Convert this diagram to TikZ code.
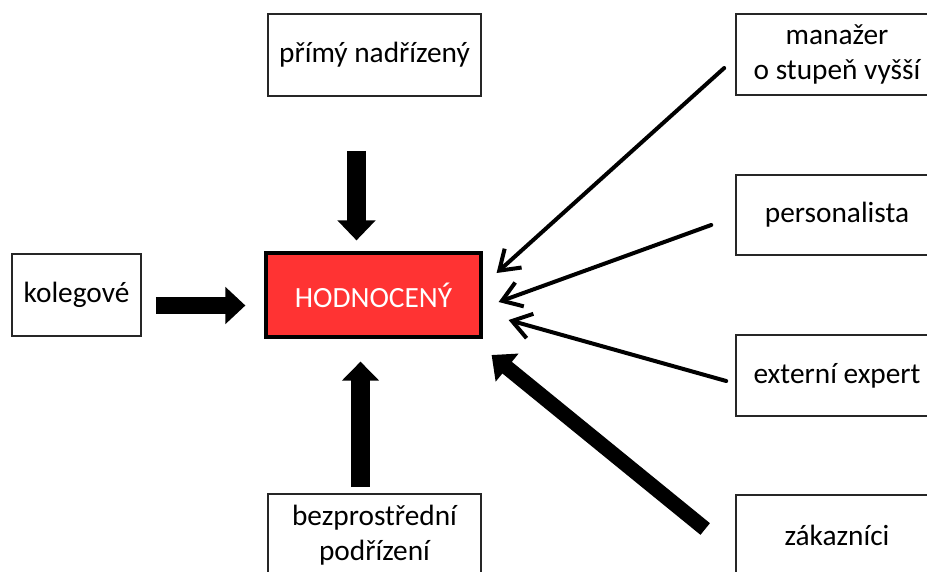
\documentclass[tikz,border=0pt]{standalone}
\usepackage{fontspec}
\setmainfont{Carlito}
\usetikzlibrary{arrows.meta,calc}
\definecolor{hodred}{RGB}{255,51,51}
\begin{document}
\begin{tikzpicture}[x=0.75pt,y=-0.75pt,
  box/.style={draw=black!85,line width=1.2pt,fill=white,inner sep=0pt,align=center,
    font=\fontsize{22}{26.5}\selectfont},
  sz/.style 2 args={minimum width=#1*0.75pt,minimum height=#2*0.75pt},
  blockarrow/.style n args={3}{line width=#1*0.75pt,
    -{Triangle[length=#3*0.75pt,width=#2*0.75pt]}},
  thinarrow/.style={line width=3pt,line cap=round,
    -{Straight Barb[length=14pt,width=19pt]}}
]
\useasboundingbox (0,0) rectangle (927,571);
\fill[white] (0,0) rectangle (927,571);
\clip (0,0) rectangle (927,571);

% nodes
\node[box,sz={213}{82}] (top) at (374.5,55) {přímý nadřízený};
\node[box,sz={129}{82}] (kol) at (76.5,295) {kolegové};
\node[box,sz={215}{84},fill=hodred,draw=black,line width=2.4pt,text=white] (hod) at (373.5,295) {HODNOCENÝ};
\node[box,sz={213}{82}] (bot) at (374.5,535) {bezprostřední\\podřízení};
\node[box,sz={202}{81}] (mgr) at (837,54.5) {manažer\\o stupeň vyšší};
\node[box,sz={202}{80}] (pers) at (837,215) {personalista};
\node[box,sz={202}{81}] (ext) at (837,375.5) {externí expert};
\node[box,sz={202}{81}] (zak) at (837,535.5) {zákazníci};

% block arrows
\draw[blockarrow={19}{37}{20}] ($(top.south)+(-18,54)$) -- ($(hod.north)+(-17,-11)$);
\draw[blockarrow={19}{36}{19}] ($(bot.north)+(-14,-6)$) -- ($(hod.south)+(-13,23)$);
\draw[blockarrow={17}{36}{20}] ($(kol.east)+(14,10.5)$) -- ($(hod.west)+(-19,10.5)$);
\draw[blockarrow={15}{35}{20}] ($(zak.west)+(-30,-6.5)$) -- ($(hod.east)+(9,60)$);

% thin arrows
\draw[thinarrow] ($(mgr.west)+(-11,13.5)$) -- ($(hod.east)+(14,-22)$);
\draw[thinarrow] ($(pers.west)+(-24,10)$) -- ($(hod.east)+(16,7)$);
\draw[thinarrow] ($(ext.west)+(-9,5.5)$) -- ($(hod.east)+(26,25)$);
\end{tikzpicture}
\end{document}
